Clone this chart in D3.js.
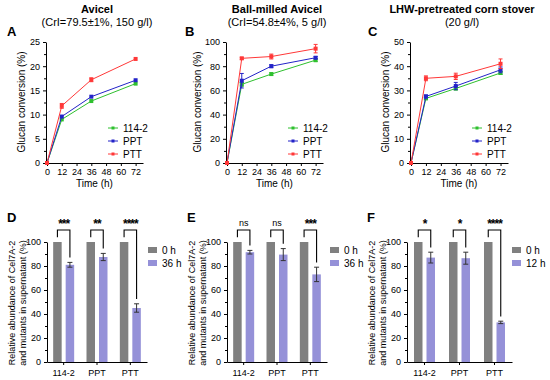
<!DOCTYPE html>
<html>
<head>
<meta charset="utf-8">
<script src="https://cdn.jsdelivr.net/npm/d3@7"></script>
<style>
  body{margin:0;background:#fff;}
  svg{font-family:"Liberation Sans",Arial,sans-serif;}
  .axis path,.axis line{stroke:#000;stroke-width:1;}
  .axis text{font-size:9px;fill:#000;}
</style>
</head>
<body>
<div id="chart"></div>
<script>
// ---- data ----
var hours = [0, 12, 36, 72];
var strains = ["114-2", "PPT", "PTT"];
var lineColors = ["#2ec02e", "#2323c8", "#ff3838"];

var avicel = [[0, 9.0, 12.8, 16.4], [0, 9.6, 13.7, 17.1], [0, 11.8, 17.2, 21.5]];
var avicelErr = [[0, 0.2, 0.2, 0.3], [0, 0.2, 0.3, 0.2], [0, 0.5, 0.4, 0.2]];
var ballMilled = [[0, 65.0, 73.5, 85.0], [0, 68.0, 80.0, 87.0], [0, 86.5, 88.0, 94.5]];
var ballMilledErr = [[0, 1.5, 1.0, 1.2], [0, 6.0, 1.2, 1.0], [0, 0.8, 2.0, 3.5]];
var stover = [[0, 26.7, 30.8, 37.2], [0, 27.5, 31.8, 38.5], [0, 35.0, 35.8, 41.0]];
var stoverErr = [[0, 0.5, 0.6, 0.6], [0, 0.6, 1.5, 1.2], [0, 1.0, 1.3, 2.0]];

var barGroups = ["0 h", "t"];
var remainD = [81, 87.5, 45], remainDErr = [2, 3, 3.5];
var remainE = [91.5, 89.5, 73], remainEErr = [1.5, 5, 6];
var remainF = [87, 86.5, 33], remainFErr = [4.5, 5, 1];
var sigD = ["***", "**", "****"];
var sigE = ["ns", "ns", "***"];
var sigF = ["*", "*", "****"];

var svg = d3.select("#chart").append("svg").attr("width", 550).attr("height", 380);

function linePanel(o) {
  var g = svg.append("g").attr("transform", "translate(" + o.left + ",0)");
  var x = d3.scaleLinear().domain([0, 78]).range([1, o.width]);
  var y = d3.scaleLinear().domain([0, o.ymax]).range([163, 42]);

  g.append("g").attr("class", "axis").attr("transform", "translate(0,163)")
    .call(d3.axisBottom(x).tickValues([0, 12, 24, 36, 48, 60, 72]).tickSize(3).tickSizeOuter(0));
  g.append("g").attr("class", "axis")
    .call(d3.axisLeft(y).ticks(5).tickSize(3).tickSizeOuter(0));
  g.append("g").attr("class", "axis")
    .call(d3.axisLeft(y).tickValues(d3.range(o.ymax / 10, o.ymax, o.ymax / 5)).tickSize(2).tickFormat(""))
    .select(".domain").remove();

  var line = d3.line().x(function(d, i) { return x(hours[i]); }).y(function(d) { return y(d); });
  o.data.forEach(function(s, k) {
    var c = lineColors[k];
    var sg = g.append("g");
    sg.append("path").attr("d", line(s)).attr("fill", "none").attr("stroke", c).attr("stroke-width", 1);
    s.forEach(function(v, i) {
      var e = o.err[k][i];
      if (e > 0.3) {
        sg.append("line").attr("x1", x(hours[i])).attr("x2", x(hours[i]))
          .attr("y1", y(v - e)).attr("y2", y(v + e)).attr("stroke", c);
        [v - e, v + e].forEach(function(w) {
          sg.append("line").attr("x1", x(hours[i]) - 2).attr("x2", x(hours[i]) + 2)
            .attr("y1", y(w)).attr("y2", y(w)).attr("stroke", c);
        });
      }
      sg.append("rect").attr("x", x(hours[i]) - 2).attr("y", y(v) - 2)
        .attr("width", 4).attr("height", 4).attr("fill", c);
    });
  });

  // legend
  strains.forEach(function(s, k) {
    var ly = 128 + k * 13;
    g.append("line").attr("x1", o.legX).attr("x2", o.legX + 10).attr("y1", ly).attr("y2", ly)
      .attr("stroke", lineColors[k]);
    g.append("rect").attr("x", o.legX + 3.5).attr("y", ly - 1.5).attr("width", 3).attr("height", 3)
      .attr("fill", lineColors[k]);
    g.append("text").attr("x", o.legX + 15).attr("y", ly + 3.5).attr("font-size", "10px").text(s);
  });

  g.append("text").attr("x", o.width / 2).attr("y", 187).attr("text-anchor", "middle")
    .attr("font-size", "10px").text("Time (h)");
  g.append("text").attr("transform", "translate(" + o.ylabX + ",102) rotate(-90)")
    .attr("text-anchor", "middle").attr("font-size", "10px").text("Glucan conversion (%)");
  g.append("text").attr("x", o.titleX).attr("y", 13).attr("text-anchor", "middle")
    .attr("font-size", "11px").attr("font-weight", "bold").text(o.title);
  g.append("text").attr("x", o.titleX).attr("y", 26).attr("text-anchor", "middle")
    .attr("font-size", "11px").text(o.sub);
  g.append("text").attr("x", o.letX).attr("y", 36).attr("font-size", "13px")
    .attr("font-weight", "bold").text(o.letter);
}

linePanel({left: 46, width: 97, ymax: 25, data: avicel, err: avicelErr, legX: 62,
  ylabX: -21, title: "Avicel", sub: "(CrI=79.5\u00b11%, 150 g/l)", titleX: 51, letX: -39, letter: "A"});
linePanel({left: 226, width: 97, ymax: 100, data: ballMilled, err: ballMilledErr, legX: 62,
  ylabX: -25, title: "Ball-milled Avicel", sub: "(CrI=54.8\u00b14%, 5 g/l)", titleX: 51, letX: -41, letter: "B"});
linePanel({left: 410, width: 98, ymax: 50, data: stover, err: stoverErr, legX: 62,
  ylabX: -21, title: "LHW-pretreated corn stover", sub: "(20 g/l)", titleX: 52, letX: -42, letter: "C"});

function barPanel(o) {
  var g = svg.append("g").attr("transform", "translate(" + o.left + ",0)");
  var x0 = d3.scaleBand().domain(strains).range([0, o.width]);
  var x1 = d3.scaleBand().domain(barGroups).range([0, 21]).paddingInner(0.32);
  var y = d3.scaleLinear().domain([0, 100]).range([362, 242]);
  var off = x0.bandwidth() / 2 - 10.5;
  var fills = ["#808080", "#9591d8"];

  strains.forEach(function(s, k) {
    var vals = [100, o.vals[k]];
    var gx = x0(s) + off;
    barGroups.forEach(function(b, j) {
      g.append("rect").attr("x", gx + x1(b)).attr("y", y(vals[j]))
        .attr("width", x1.bandwidth()).attr("height", y(0) - y(vals[j])).attr("fill", fills[j]);
    });
    var cx = gx + x1("t") + x1.bandwidth() / 2;
    var top = o.vals[k] + o.err[k], bot = o.vals[k] - o.err[k];
    g.append("line").attr("x1", cx).attr("x2", cx).attr("y1", y(bot)).attr("y2", y(top)).attr("stroke", "#333");
    [bot, top].forEach(function(w) {
      g.append("line").attr("x1", cx - 2.5).attr("x2", cx + 2.5).attr("y1", y(w)).attr("y2", y(w)).attr("stroke", "#333");
    });
    // significance bracket
    var lx = gx + x1("0 h") + x1.bandwidth() / 2;
    g.append("path").attr("fill", "none").attr("stroke", "#000").attr("stroke-width", 1.1)
      .attr("d", "M" + lx + "," + y(104) + "V" + y(110) + "H" + cx + "V" + y(top + 4));
    var ns = o.sig[k] === "ns";
    g.append("text").attr("x", (lx + cx) / 2).attr("y", ns ? y(113) : y(111.5))
      .attr("text-anchor", "middle").attr("font-size", ns ? "9px" : "12px")
      .attr("font-weight", ns ? "normal" : "bold").attr("letter-spacing", ns ? "0" : "-1px")
      .text(o.sig[k]);
  });

  g.append("g").attr("class", "axis").attr("transform", "translate(0,362)")
    .call(d3.axisBottom(x0).tickSize(3).tickSizeOuter(0))
    .selectAll("text").attr("font-size", "9.5px").attr("dy", "0.9em");
  g.append("g").attr("class", "axis")
    .call(d3.axisLeft(y).tickValues([0, 20, 40, 60, 80, 100]).tickSize(3).tickSizeOuter(0));
  g.append("g").attr("class", "axis")
    .call(d3.axisLeft(y).tickValues([10, 30, 50, 70, 90]).tickSize(2).tickFormat(""))
    .select(".domain").remove();

  ["0 h", o.time].forEach(function(t, j) {
    var ly = 250 + j * 13;
    g.append("rect").attr("x", o.legX).attr("y", ly - 3).attr("width", 9).attr("height", 6).attr("fill", fills[j]);
    g.append("text").attr("x", o.legX + 14).attr("y", ly + 3.5).attr("font-size", "10px").text(t);
  });

  var yl = g.append("text").attr("transform", "translate(" + o.ylabX + ",303) rotate(-90)")
    .attr("text-anchor", "middle").attr("font-size", "9px");
  yl.append("tspan").attr("x", 0).attr("dy", "0").text("Relative abundance of Cel7A-2");
  yl.append("tspan").attr("x", 0).attr("dy", "1.2em").text("and mutants in supernatant (%)");
  g.append("text").attr("x", o.letX).attr("y", 222).attr("font-size", "13px")
    .attr("font-weight", "bold").text(o.letter);
}

barPanel({left: 47, width: 100, vals: remainD, err: remainDErr, sig: sigD, time: "36 h",
  legX: 101, ylabX: -32, letX: -40, letter: "D"});
barPanel({left: 227, width: 100, vals: remainE, err: remainEErr, sig: sigE, time: "36 h",
  legX: 103, ylabX: -32, letX: -40, letter: "E"});
barPanel({left: 407, width: 105, vals: remainF, err: remainFErr, sig: sigF, time: "12 h",
  legX: 105, ylabX: -32, letX: -40, letter: "F"});
</script>
</body>
</html>
